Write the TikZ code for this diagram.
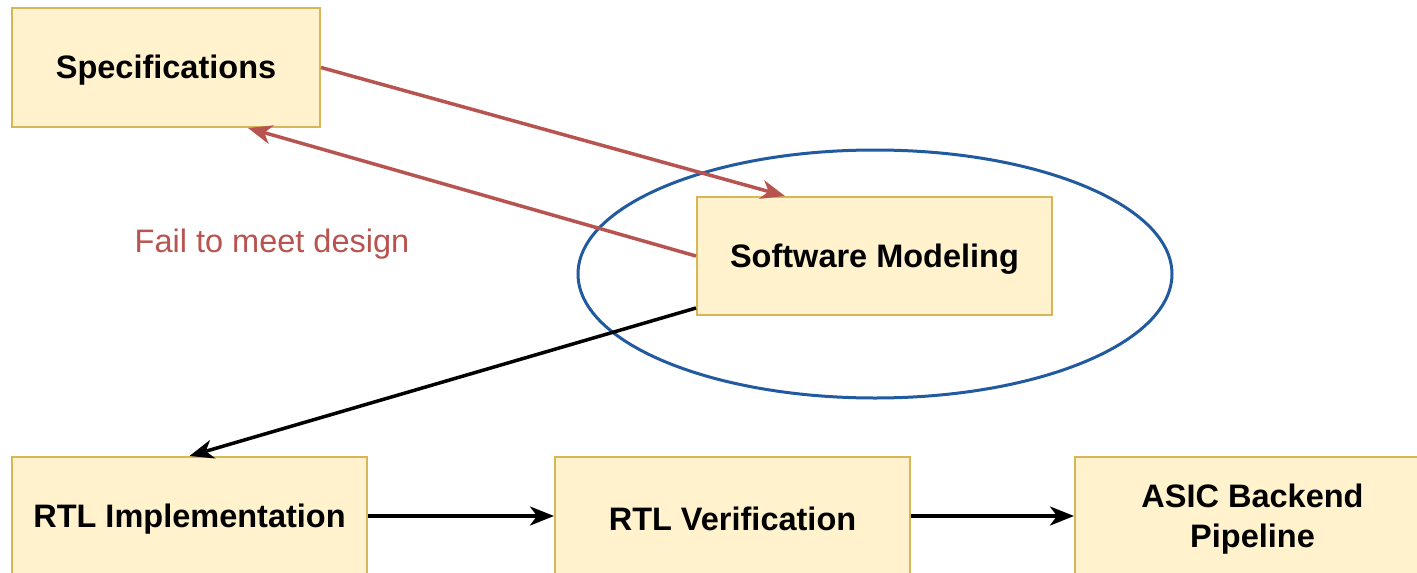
\documentclass[tikz,border=0pt]{standalone}
\usepackage{fontspec}
\setmainfont{Liberation Sans}
\usetikzlibrary{arrows.meta,calc}
\definecolor{boxfill}{HTML}{FFF2CC}
\definecolor{boxline}{HTML}{D6B656}
\definecolor{failred}{HTML}{B85450}
\definecolor{loopblue}{HTML}{215A9E}
% lower a label inside its box without changing the box size
\newcommand{\lowered}[2]{\raisebox{-#1}[\height][\depth]{#2}}
\tikzset{
  stage/.style={draw=boxline, fill=boxfill, line width=2pt, minimum width=355pt,
    minimum height=118pt, inner sep=0pt, align=center,
    font=\fontsize{32.5}{40}\selectfont\bfseries},
  flow/.style={line width=3.5pt, -{Stealth[length=24pt,width=19pt,inset=7pt]}},
  back/.style={flow, draw=failred, color=failred},
}
\begin{document}
\begin{tikzpicture}[x=1pt,y=-1pt]
\useasboundingbox (0,0) rectangle (1417,573);
\clip (0,0) rectangle (1417,573);
\fill[white] (0,0) rectangle (1417,573);

% loop highlighting the modelling step
\draw[loopblue, line width=3pt] (875,274) ellipse [x radius=297, y radius=124];

% stages
\node[stage, minimum width=308pt, minimum height=119pt] (spec) at (166,67.5) {\lowered{2.5pt}{Specifications}};
\node[stage] (sm) at (874.5,256) {\lowered{3pt}{Software Modeling}};
\node[stage] (rtl) at (189.5,516) {\lowered{3pt}{RTL Implementation}};
\node[stage] (ver) at (732.5,516) {\lowered{3pt}{RTL Verification}};
\node[stage] (asic) at (1252.5,516) {\lowered{3.5pt}{\begin{tabular}{@{}c@{}}ASIC Backend\\[0pt]Pipeline\end{tabular}}};

% attachment points on the box borders
\coordinate (specout) at (spec.east);
\coordinate (smin) at ([xshift=-89.5pt]sm.north);
\coordinate (specin) at ([xshift=82pt]spec.south);
\coordinate (smdown) at ([yshift=-52pt]sm.west);

% refinement loop
\draw[back] (specout) -- (smin);
\draw[back] (sm.west) -- (specin);
\node[text=failred, font=\fontsize{32.5}{40}\selectfont] (fail) at (272,244) {Fail to meet design};

% main flow
\draw[flow] (smdown) -- (rtl.north);
\draw[flow] (rtl) -- (ver);
\draw[flow] (ver) -- (asic);
\end{tikzpicture}
\end{document}
